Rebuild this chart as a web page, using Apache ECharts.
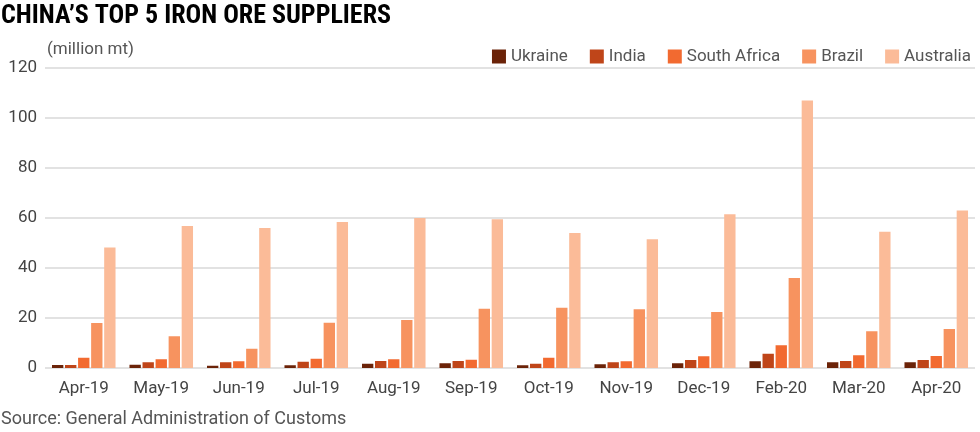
<!DOCTYPE html><html><head><meta charset="utf-8"><script src="https://cdn.jsdelivr.net/npm/echarts@6/dist/echarts.min.js"></script></head><body style="margin:0"><div id="c" style="width:980px;height:432px"></div><script>
const categories=['Apr-19','May-19','Jun-19','Jul-19','Aug-19','Sep-19','Oct-19','Nov-19','Dec-19','Feb-20','Mar-20','Apr-20'];
const ukraine=[1.2,1.3,0.9,1.1,1.7,1.9,1.1,1.5,1.9,2.7,2.3,2.3];
const india=[1.2,2.3,2.3,2.5,2.8,2.8,1.7,2.3,3.2,5.7,2.8,3.2];
const southAfrica=[4.1,3.5,2.7,3.7,3.5,3.3,4.1,2.7,4.7,9.1,5.1,4.8];
const brazil=[18,12.7,7.7,18.1,19.2,23.7,24.1,23.5,22.4,36,14.7,15.6];
const australia=[48.2,56.8,56,58.4,60,59.5,54,51.5,61.5,107,54.5,63];
const names=['Ukraine','India','South Africa','Brazil','Australia'];
const colors=['#6b2308','#bf4519','#f26a30','#f7935f','#fbbb98'];
const data=[ukraine,india,southAfrica,brazil,australia];
const ch=echarts.init(document.getElementById('c'));
const F='Roboto';
ch.setOption({
 textStyle:{fontFamily:F},
 graphic:[
  {type:'text',left:1,top:3,style:{text:'CHINA’S TOP 5 IRON ORE SUPPLIERS',font:'bold 26px "Roboto Condensed","Liberation Sans Narrow",Roboto',fill:'#000'}},
  {type:'text',left:47,top:41,style:{text:'(million mt)',font:'17px Roboto',fill:'#555'}},
  {type:'text',left:1,top:410,style:{text:'Source: General Administration of Customs',font:'18px Roboto',fill:'#555'}}
 ],
 legend:{right:4,top:43,itemWidth:14,itemHeight:14,itemGap:22,icon:'rect',textStyle:{fontSize:17,color:'#555',fontFamily:F},data:names},
 grid:{left:45,right:5,top:68,bottom:64},
 xAxis:{type:'category',data:categories,axisTick:{show:false},axisLine:{show:false},axisLabel:{fontSize:17,color:'#444',margin:12}},
 yAxis:{type:'value',min:0,max:120,interval:20,axisLabel:{fontSize:17,color:'#444',margin:8},splitLine:{lineStyle:{color:'#d9d9d9',width:1.5}}},
 series:data.map((d,i)=>({name:names[i],type:'bar',data:d,barGap:'15%',barCategoryGap:'18%',itemStyle:{color:colors[i]}}))
});
</script></body></html>
